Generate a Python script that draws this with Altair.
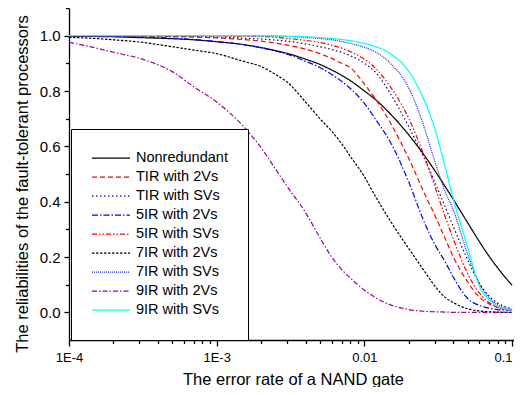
import altair as alt
import pandas as pd

# error rate of a NAND gate (x positions where curves were read)
eps = [0.0001, 0.00015, 0.0002, 0.0003, 0.0004, 0.0005, 0.0007, 0.001, 0.0015, 0.002,
       0.0025, 0.003, 0.004, 0.005, 0.006, 0.007, 0.008, 0.01, 0.012, 0.015,
       0.02, 0.025, 0.03, 0.035, 0.04, 0.05, 0.06, 0.07, 0.08, 0.09, 0.1]

names = ["Nonredundant", "TIR with 2Vs", "TIR with SVs", "5IR with 2Vs", "5IR with SVs",
         "7IR with 2Vs", "7IR with SVs", "9IR with 2Vs", "9IR with SVs"]

nonredundant = [0.998, 0.997, 0.996, 0.993, 0.991, 0.989, 0.985, 0.978, 0.968, 0.957,
                0.946, 0.936, 0.915, 0.896, 0.876, 0.857, 0.838, 0.800, 0.767, 0.717,
                0.641, 0.573, 0.512, 0.457, 0.408, 0.324, 0.256, 0.202, 0.160, 0.126, 0.098]
tir_2v = [1.0, 0.999, 0.999, 0.998, 0.998, 0.997, 0.995, 0.992, 0.986, 0.98,
          0.973, 0.966, 0.951, 0.935, 0.918, 0.9, 0.885, 0.825, 0.768, 0.685,
          0.555, 0.44, 0.35, 0.27, 0.2, 0.11, 0.055, 0.03, 0.018, 0.012, 0.008]
tir_sv = [1.0, 1.0, 1.0, 0.999, 0.999, 0.998, 0.997, 0.995, 0.991, 0.988,
          0.984, 0.98, 0.97, 0.96, 0.95, 0.94, 0.928, 0.9, 0.865, 0.79,
          0.67, 0.565, 0.47, 0.385, 0.31, 0.19, 0.105, 0.058, 0.033, 0.02, 0.013]
ir5_2v = [0.999, 0.998, 0.997, 0.995, 0.993, 0.991, 0.986, 0.979, 0.968, 0.956,
          0.945, 0.933, 0.907, 0.885, 0.86, 0.835, 0.81, 0.755, 0.695, 0.615,
          0.47, 0.335, 0.245, 0.185, 0.127, 0.05, 0.025, 0.015, 0.01, 0.008, 0.007]
ir5_sv = [1.0, 1.0, 1.0, 1.0, 1.0, 1.0, 0.999, 0.999, 0.998, 0.997,
          0.994, 0.99, 0.983, 0.975, 0.966, 0.955, 0.943, 0.915, 0.88, 0.815,
          0.70, 0.575, 0.455, 0.35, 0.265, 0.14, 0.07, 0.035, 0.018, 0.01, 0.006]
ir7_2v = [0.994, 0.99, 0.985, 0.977, 0.968, 0.96, 0.948, 0.935, 0.908, 0.888,
          0.86, 0.832, 0.76, 0.70, 0.655, 0.61, 0.565, 0.49, 0.415, 0.33,
          0.23, 0.155, 0.095, 0.055, 0.035, 0.013, 0.005, 0.002, 0.001, 0.0, 0.0]
ir7_sv = [1.0, 1.0, 1.0, 1.0, 1.0, 1.0, 1.0, 1.0, 0.999, 0.999,
          0.998, 0.997, 0.994, 0.99, 0.985, 0.979, 0.972, 0.958, 0.94, 0.9,
          0.81, 0.68, 0.545, 0.44, 0.37, 0.21, 0.105, 0.052, 0.027, 0.016, 0.01]
ir9_2v = [0.976, 0.956, 0.94, 0.918, 0.895, 0.87, 0.815, 0.76, 0.675, 0.595,
          0.518, 0.455, 0.36, 0.27, 0.2, 0.155, 0.125, 0.08, 0.052, 0.027,
          0.01, 0.004, 0.002, 0.001, 0.0, 0.0, 0.0, 0.0, 0.0, 0.0, 0.0]
ir9_sv = [1.0, 1.0, 1.0, 1.0, 1.0, 1.0, 1.0, 1.0, 1.0, 0.999,
          0.999, 0.998, 0.996, 0.993, 0.99, 0.986, 0.982, 0.972, 0.96, 0.935,
          0.87, 0.775, 0.663, 0.53, 0.41, 0.235, 0.095, 0.045, 0.022, 0.012, 0.007]

series = [nonredundant, tir_2v, tir_sv, ir5_2v, ir5_sv, ir7_2v, ir7_sv, ir9_2v, ir9_sv]

colors = ["#000000", "#ff0000", "#000080", "#0000ff", "#ff0000",
          "#000000", "#2222dd", "#990099", "#00ffff"]
dashes = [[1, 0], [5, 3], [1.5, 2.5], [6, 2, 1.5, 2], [5, 2, 1.5, 2, 1.5, 2],
          [2.5, 1.5], [1, 1], [5, 2, 1.5, 2], [1, 0]]

x_major = [0.0001, 0.001, 0.01, 0.1]
x_minor = [0.0002, 0.0003, 0.0004, 0.0005, 0.0006, 0.0007, 0.0008, 0.0009,
           0.002, 0.003, 0.004, 0.005, 0.006, 0.007, 0.008, 0.009,
           0.02, 0.03, 0.04, 0.05, 0.06, 0.07, 0.08, 0.09]
y_major = [0.0, 0.2, 0.4, 0.6, 0.8, 1.0]
y_minor = [0.1, 0.3, 0.5, 0.7, 0.9, 1.1]

rows = []
for name, ys in zip(names, series):
    for xv, yv in zip(eps, ys):
        rows.append({"eps": xv, "R": yv, "series": name})
df = pd.DataFrame(rows)

FONT = "Liberation Sans"
xscale = alt.Scale(type="log", domain=[0.0001, 0.103], nice=False)
yscale = alt.Scale(domain=[-0.1, 1.1], nice=False, zero=False)

legend = alt.Legend(
    orient="none", legendX=2, legendY=121,
    strokeColor="black", fillColor="white", padding=20,
    symbolType="stroke", symbolSize=1444, symbolStrokeWidth=1.2,
    clipHeight=18.4, rowPadding=0,
    labelFont=FONT, labelFontSize=14.5, labelOffset=5, labelColor="black",
)

lines = alt.Chart(df).mark_line(strokeWidth=1.2, interpolate="monotone", clip=True).encode(
    x=alt.X("eps:Q", scale=xscale,
            axis=alt.Axis(values=x_major, orient="bottom", tickSize=6, labelPadding=5,
                          labelFontSize=13, labelFlush=False,
                          labelAlign=alt.condition("datum.value > 0.05",
                                                   alt.value("right"), alt.value("center")),
                          labelExpr="datum.value < 0.0005 ? '1E-4' : datum.value < 0.005 ? '1E-3' : datum.value < 0.05 ? '0.01' : '0.1'",
                          title="The error rate of a NAND gate", titleFontSize=16.5,
                          titleFontWeight="normal", titleX=224, titleY=44,
                          titleBaseline="alphabetic")),
    y=alt.Y("R:Q", scale=yscale,
            axis=alt.Axis(values=y_major, orient="left", format=".1f", tickSize=5,
                          labelPadding=4, labelFontSize=15, labelFlush=False,
                          title="The reliabilities of the fault-tolerant processors",
                          titleFontSize=16.5, titleFontWeight="normal",
                          titleX=-42, titleY=175.5, titleBaseline="alphabetic")),
    color=alt.Color("series:N", scale=alt.Scale(domain=names, range=colors),
                    sort=names, legend=legend, title=None),
    strokeDash=alt.StrokeDash("series:N", scale=alt.Scale(domain=names, range=dashes),
                              sort=names, legend=legend, title=None),
)

minor = alt.Chart(df).mark_line(opacity=0).encode(
    x=alt.X("eps:Q", scale=xscale,
            axis=alt.Axis(values=x_minor, orient="bottom", labels=False, tickSize=3.5,
                          domain=False, title=None)),
    y=alt.Y("R:Q", scale=yscale,
            axis=alt.Axis(values=y_minor, orient="left", labels=False, tickSize=3.5,
                          domain=False, title=None)),
    detail="series:N",
)

chart = alt.layer(lines, minor).resolve_axis(
    x="independent", y="independent"
).properties(
    width=445, height=332, autosize="none",
    padding={"left": 61, "top": 0, "right": 0, "bottom": 47},
).configure_axis(
    grid=False, domainColor="black", tickColor="black", domainWidth=1.3, tickWidth=1.3,
    labelFont=FONT, titleFont=FONT, labelColor="black", titleColor="black",
    labelFlush=False,
).configure_view(strokeWidth=0)

chart.save("out.html", embed_options={"renderer": "svg", "actions": False})
